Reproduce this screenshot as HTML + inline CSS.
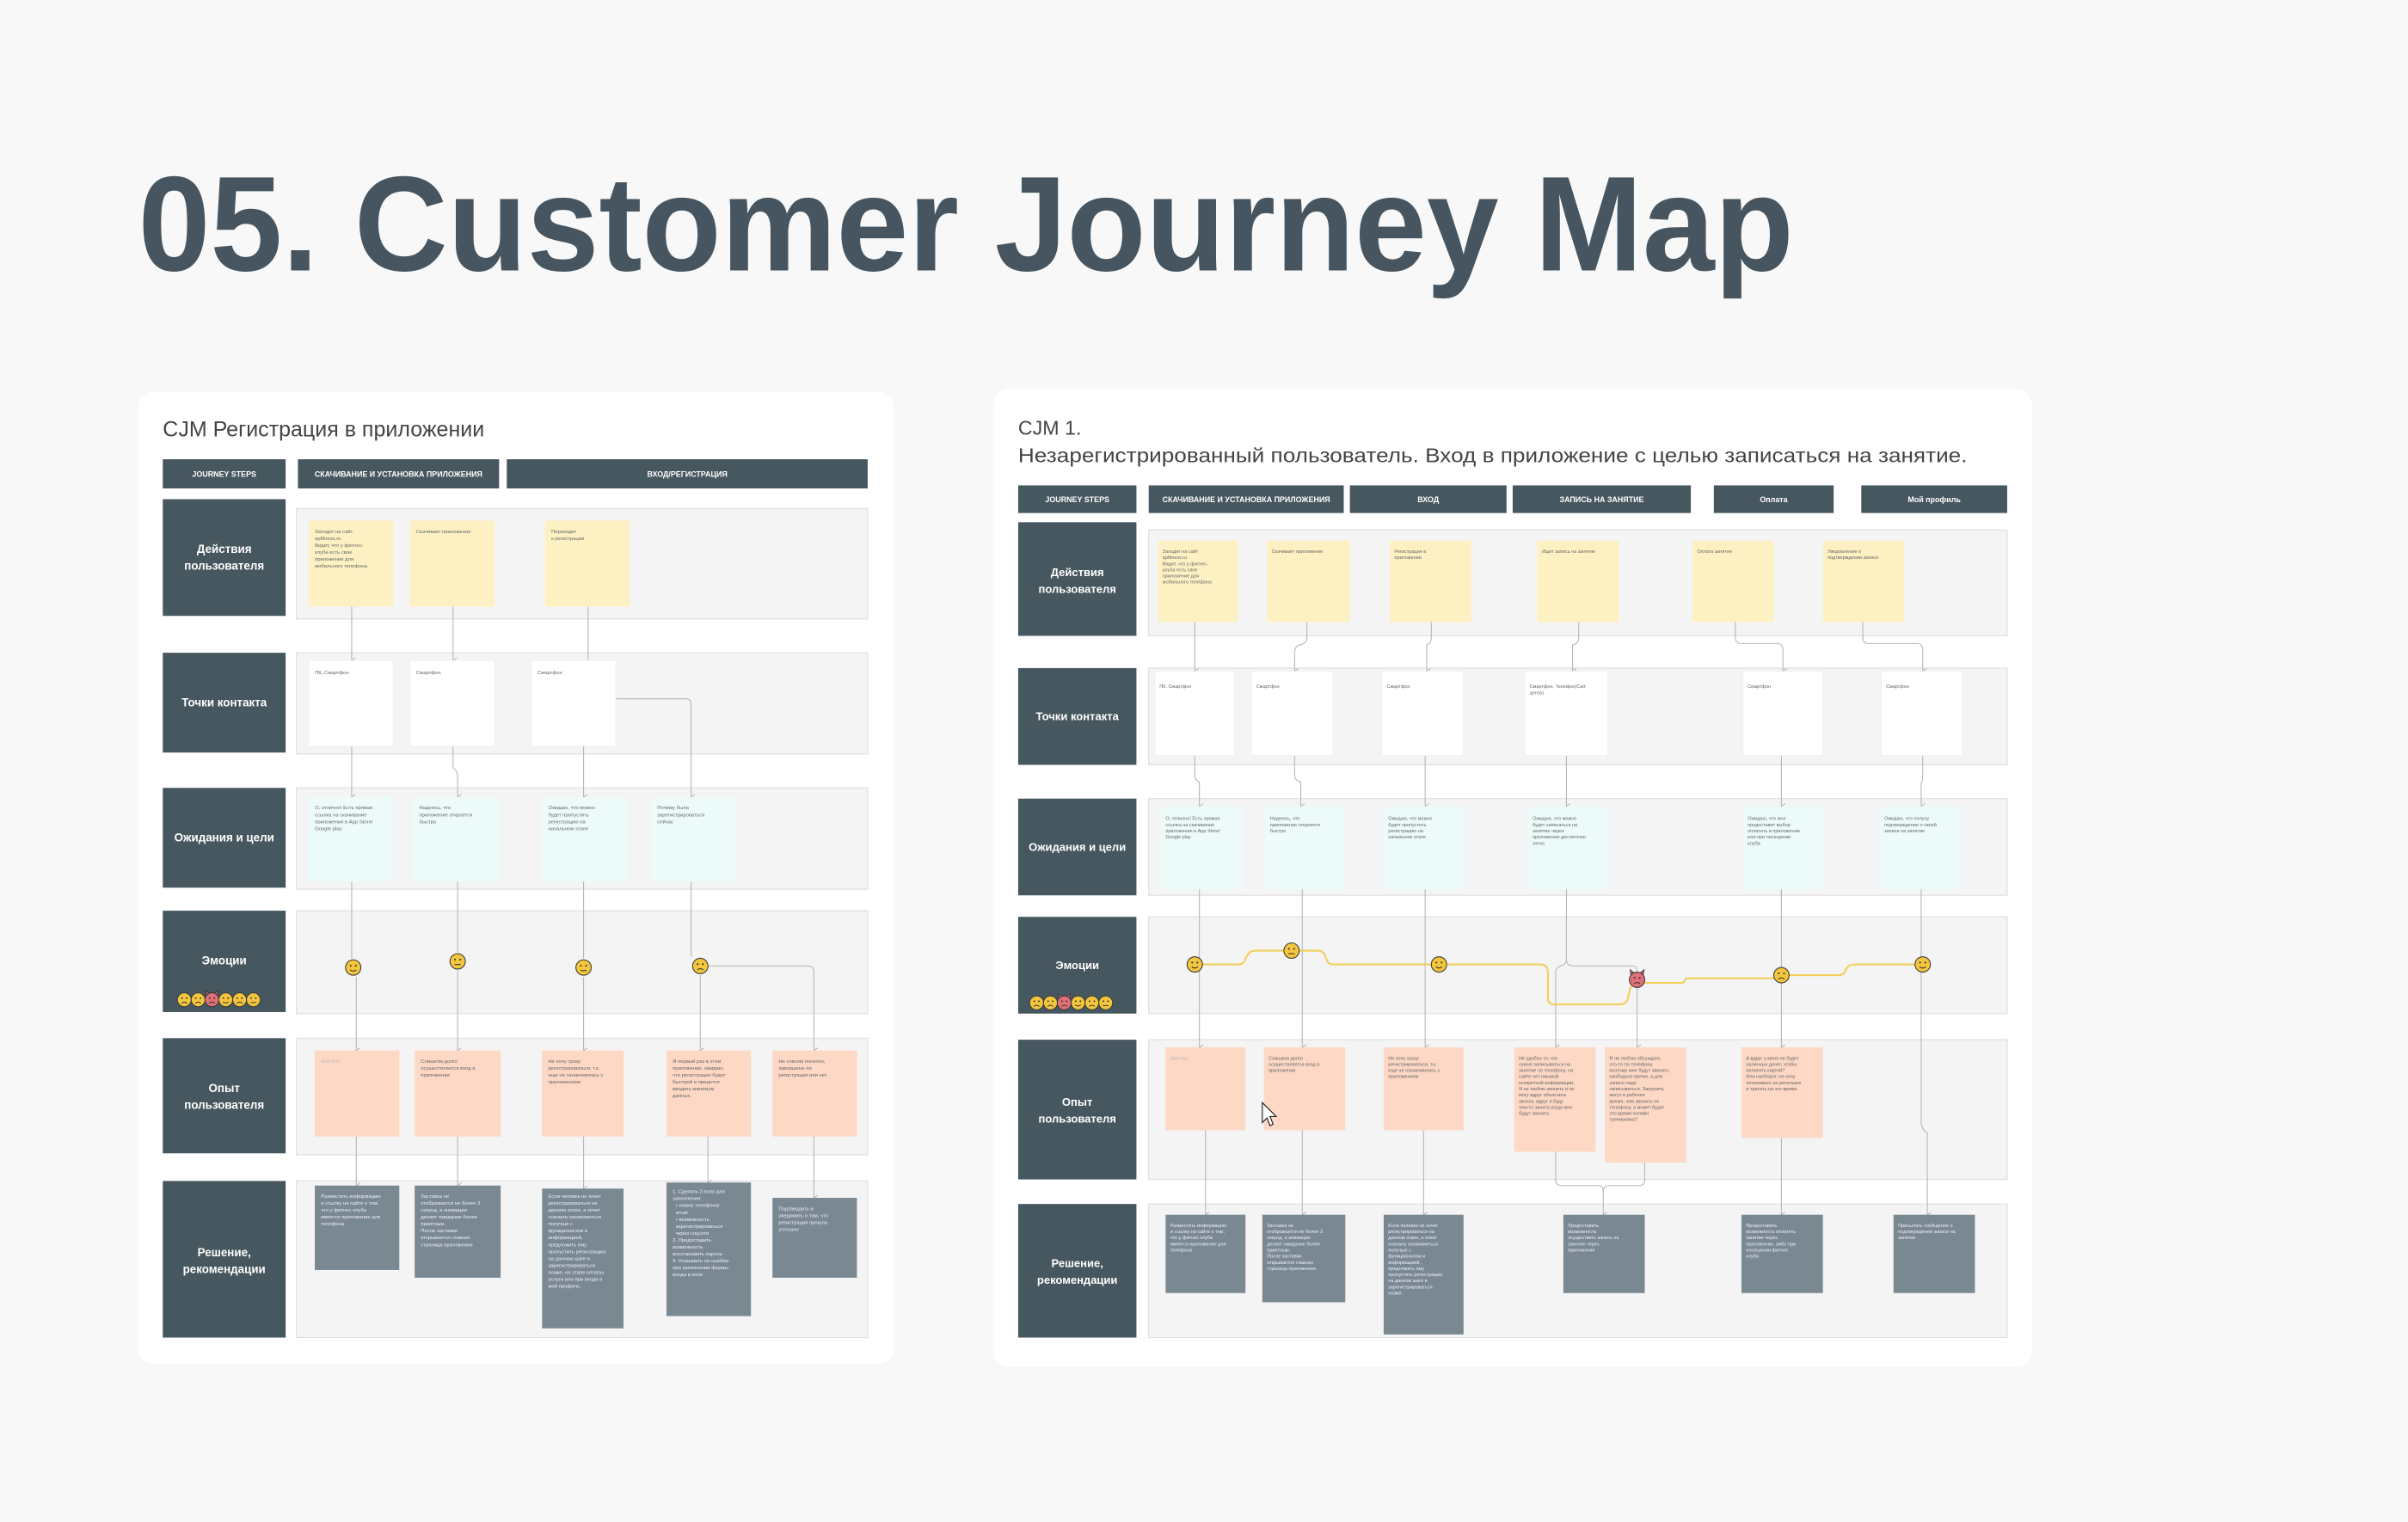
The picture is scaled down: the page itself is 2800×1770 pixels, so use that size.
<!DOCTYPE html>
<html><head><meta charset="utf-8"><style>
html,body{margin:0;padding:0;background:#f8f8f8;}
svg{display:block}
text{font-family:"Liberation Sans","Noto Sans CJK SC",sans-serif;}
</style></head><body>
<svg width="2800" height="1770" viewBox="0 0 1568 991" xmlns="http://www.w3.org/2000/svg">
<defs>
<g id="fy"><circle r="5" fill="#f4c63d" stroke="#3a3a3a" stroke-width="0.6"/><circle cx="-1.7" cy="-1.2" r="0.6" fill="#333"/><circle cx="1.7" cy="-1.2" r="0.6" fill="#333"/><path d="M-2,1.5 Q0,3.2 2,1.5" stroke="#333" stroke-width="0.6" fill="none"/></g>
<g id="fn"><circle r="5" fill="#f4c63d" stroke="#3a3a3a" stroke-width="0.6"/><circle cx="-1.7" cy="-1.2" r="0.6" fill="#333"/><circle cx="1.7" cy="-1.2" r="0.6" fill="#333"/><path d="M-2,2 L2,2" stroke="#333" stroke-width="0.6"/></g>
<g id="fs"><circle r="5" fill="#f4c63d" stroke="#3a3a3a" stroke-width="0.6"/><circle cx="-1.7" cy="-1.2" r="0.6" fill="#333"/><circle cx="1.7" cy="-1.2" r="0.6" fill="#333"/><path d="M-2,2.6 Q0,0.8 2,2.6" stroke="#333" stroke-width="0.6" fill="none"/></g>
<g id="fr"><path d="M-4,-3 L-4.5,-6.5 L-2,-4.5 M4,-3 L4.5,-6.5 L2,-4.5" fill="#d9636a" stroke="#333" stroke-width="0.5"/><circle r="5" fill="#e26f78" stroke="#3a3a3a" stroke-width="0.6"/><circle cx="-1.7" cy="-1.2" r="0.6" fill="#333"/><circle cx="1.7" cy="-1.2" r="0.6" fill="#333"/><path d="M-2,2.6 Q0,0.8 2,2.6" stroke="#333" stroke-width="0.6" fill="none"/></g>
<marker id="ar" markerWidth="4" markerHeight="4" refX="2" refY="3" orient="auto-start-reverse" markerUnits="userSpaceOnUse"><path d="M0.3,0.5 L2,3 L3.7,0.5" stroke="#aaa" stroke-width="0.5" fill="none"/></marker>
</defs>
<rect width="1568" height="991" fill="#f8f8f8"/>
<text x="90" y="176" font-size="88" font-weight="bold" fill="#46555f" textLength="1078" lengthAdjust="spacingAndGlyphs">05. Customer Journey Map</text>

<!-- LEFT PANEL -->
<rect x="90" y="255" width="492" height="633" rx="10" fill="#fff"/>
<text x="106" y="284" font-size="14" fill="#444">CJM Регистрация в приложении</text>
<g fill="#47575f">
<rect x="106" y="299" width="80" height="19"/><rect x="194" y="299" width="131" height="19"/><rect x="330" y="299" width="235" height="19"/>
<rect x="106" y="325" width="80" height="76"/><rect x="106" y="425" width="80" height="65"/><rect x="106" y="513" width="80" height="65"/>
<rect x="106" y="593" width="80" height="66"/><rect x="106" y="676" width="80" height="75"/><rect x="106" y="769" width="80" height="102"/>
</g>
<g fill="#fff" font-size="5" font-weight="bold" text-anchor="middle">
<text x="146" y="310.5">JOURNEY STEPS</text><text x="259.5" y="310.5">СКАЧИВАНИЕ И УСТАНОВКА ПРИЛОЖЕНИЯ</text><text x="447.5" y="310.5">ВХОД/РЕГИСТРАЦИЯ</text>
</g>
<g fill="#fff" font-size="7.5" font-weight="bold" text-anchor="middle">
<text x="146" y="360">Действия</text><text x="146" y="371">пользователя</text>
<text x="146" y="460">Точки контакта</text>
<text x="146" y="548">Ожидания и цели</text>
<text x="146" y="628">Эмоции</text>
<text x="146" y="711">Опыт</text><text x="146" y="722">пользователя</text>
<text x="146" y="818">Решение,</text><text x="146" y="829">рекомендации</text>
</g>
<g transform="translate(120,651) scale(0.9)"><use href="#fs" x="0"/><use href="#fs" x="10"/><use href="#fr" x="20"/><use href="#fy" x="30"/><use href="#fs" x="40"/><use href="#fn" x="50"/></g>
<g fill="#f4f4f4" stroke="#dcdcdc" stroke-width="0.6">
<rect x="193" y="331" width="372" height="72"/><rect x="193" y="425" width="372" height="66"/><rect x="193" y="513" width="372" height="66"/>
<rect x="193" y="593" width="372" height="67"/><rect x="193" y="676" width="372" height="76"/><rect x="193" y="769" width="372" height="102"/>
</g>
<g stroke="#b5b5b5" stroke-width="0.6" fill="none">
<path d="M229,395 V430" marker-end="url(#ar)"/><path d="M295,395 V430" marker-end="url(#ar)"/>
<path d="M229,486 V519" marker-end="url(#ar)"/><path d="M295,486 V500 Q298,502 298,505 V519" marker-end="url(#ar)"/>
<path d="M383,395 V455 Q383,457 380,459 V519" marker-end="url(#ar)"/>
<path d="M383,455 H447 Q450,455 450,459 V519" marker-end="url(#ar)"/>
<path d="M229,574 V624 M232,636 V684" marker-end="url(#ar)"/>
<path d="M298,574 V620 M298,632 V684" marker-end="url(#ar)"/>
<path d="M380,574 V624 M380,636 V684" marker-end="url(#ar)"/>
<path d="M450,574 V623 M461,629 H526 Q530,629 530,633 V684" marker-end="url(#ar)"/>
<path d="M456,635 V684" marker-end="url(#ar)"/>
<path d="M232,740 V772" marker-end="url(#ar)"/><path d="M298,740 V772" marker-end="url(#ar)"/>
<path d="M380,740 V774" marker-end="url(#ar)"/><path d="M461,740 V770" marker-end="url(#ar)"/><path d="M530,740 V780" marker-end="url(#ar)"/>
</g>
<use href="#fy" x="230" y="630"/><use href="#fn" x="298" y="626"/><use href="#fn" x="380" y="630"/><use href="#fs" x="456" y="629"/>
<g fill="#fdf1c3"><rect x="201" y="339" width="55" height="56"/><rect x="267" y="339" width="55" height="56"/><rect x="355" y="339" width="55" height="56"/></g>
<g fill="#fff" stroke="#ececec" stroke-width="0.4"><rect x="201" y="430" width="55" height="56"/><rect x="267" y="430" width="55" height="56"/><rect x="346" y="430" width="55" height="56"/></g>
<g fill="#edfafa"><rect x="201" y="519" width="55" height="55"/><rect x="269" y="519" width="56" height="55"/><rect x="353" y="519" width="55" height="55"/><rect x="424" y="519" width="55" height="55"/></g>
<g fill="#fcd8c5"><rect x="205" y="684" width="55" height="56"/><rect x="270" y="684" width="56" height="56"/><rect x="353" y="684" width="53" height="56"/><rect x="434" y="684" width="55" height="56"/><rect x="503" y="684" width="55" height="56"/></g>
<g fill="#7a8892"><rect x="205" y="772" width="55" height="55"/><rect x="270" y="772" width="56" height="60"/><rect x="353" y="774" width="53" height="91"/><rect x="434" y="770" width="55" height="87"/><rect x="503" y="780" width="55" height="52"/></g>
<g font-size="3.3" fill="#666">
<text x="205" y="347">Заходит на сайт</text><text x="205" y="351.5">apfitness.ru</text><text x="205" y="356">Видит, что у фитнес-</text><text x="205" y="360.5">клуба есть свое</text><text x="205" y="365">приложение для</text><text x="205" y="369.5">мобильного телефона</text>
<text x="271" y="347">Скачивает приложение</text><text x="359" y="347">Переходит</text><text x="359" y="351.5">к регистрации</text>
<text x="205" y="439">ПК, Смартфон</text><text x="271" y="439">Смартфон</text><text x="350" y="439">Смартфон</text>
<text x="205" y="527">О, отлично! Есть прямая</text><text x="205" y="531.5">ссылка на скачивание</text><text x="205" y="536">приложения в App Store/</text><text x="205" y="540.5">Google play</text>
<text x="273" y="527">Надеюсь, что</text><text x="273" y="531.5">приложение откроется</text><text x="273" y="536">быстро</text>
<text x="357" y="527">Ожидаю, что можно</text><text x="357" y="531.5">будет пропустить</text><text x="357" y="536">регистрацию на</text><text x="357" y="540.5">начальном этапе</text>
<text x="428" y="527">Почему была</text><text x="428" y="531.5">зарегистрироваться</text><text x="428" y="536">сейчас</text>
<text x="274" y="692">Слишком долго</text><text x="274" y="696.5">осуществляется вход в</text><text x="274" y="701">приложении</text>
<text x="357" y="692">Не хочу сразу</text><text x="357" y="696.5">регистрироваться, т.к.</text><text x="357" y="701">еще не ознакомилась с</text><text x="357" y="705.5">приложением</text>
<text x="438" y="692">Я первый раз в этом</text><text x="438" y="696.5">приложении, ожидаю,</text><text x="438" y="701">что регистрация будет</text><text x="438" y="705.5">быстрой и придется</text><text x="438" y="710">вводить минимум</text><text x="438" y="714.5">данных.</text>
<text x="507" y="692">Не совсем понятно,</text><text x="507" y="696.5">завершена ли</text><text x="507" y="701">регистрация или нет</text>
<text x="209" y="692" fill="#bbb">Add text</text>
</g>
<g font-size="3.3" fill="#eef">
<text x="209" y="780">Разместить информацию</text><text x="209" y="784.5">и ссылку на сайте о том,</text><text x="209" y="789">что у фитнес клуба</text><text x="209" y="793.5">имеется приложение для</text><text x="209" y="798">телефона</text>
<text x="274" y="780">Заставка не</text><text x="274" y="784.5">отображается не более 3</text><text x="274" y="789">секунд, а анимация</text><text x="274" y="793.5">делает ожидание более</text><text x="274" y="798">приятным.</text><text x="274" y="802.5">После заставки</text><text x="274" y="807">открывается главная</text><text x="274" y="811.5">страница приложения</text>
<text x="357" y="780">Если человек не хочет</text><text x="357" y="784.5">регистрироваться на</text><text x="357" y="789">данном этапе, а хочет</text><text x="357" y="793.5">сначала ознакомиться</text><text x="357" y="798">получше с</text><text x="357" y="802.5">функционалом и</text><text x="357" y="807">информацией,</text><text x="357" y="811.5">предложить ему</text><text x="357" y="816">пропустить регистрацию</text><text x="357" y="820.5">на данном шаге и</text><text x="357" y="825">зарегистрироваться</text><text x="357" y="829.5">позже, на этапе оплаты</text><text x="357" y="834">услуги или при входе в</text><text x="357" y="838.5">мой профиль.</text>
<text x="438" y="777">1. Сделать 2 поля для</text><text x="438" y="781.5">заполнения:</text><text x="440" y="786">• номер телефона/</text><text x="440" y="790.5">email</text><text x="440" y="795">• возможность</text><text x="440" y="799.5">зарегистрироваться</text><text x="440" y="804">через соцсети</text><text x="438" y="808.5">3. Предоставить</text><text x="438" y="813">возможность</text><text x="438" y="817.5">восстановить пароль</text><text x="438" y="822">4. Указывать на ошибки</text><text x="438" y="826.5">при заполнении формы</text><text x="438" y="831">входа в поле</text>
<text x="507" y="788">Подтвердить и</text><text x="507" y="792.5">уведомить о том, что</text><text x="507" y="797">регистрация прошла</text><text x="507" y="801.5">успешно</text>
</g>

<!-- RIGHT PANEL -->
<rect x="647" y="253" width="676" height="637" rx="10" fill="#fff"/>
<text x="663" y="283" font-size="13" fill="#444">CJM 1.</text>
<text x="663" y="301" font-size="13" fill="#444" textLength="618" lengthAdjust="spacingAndGlyphs">Незарегистрированный пользователь.  Вход в приложение с целью записаться на занятие.</text>
<g fill="#47575f">
<rect x="663" y="316" width="77" height="18"/><rect x="748" y="316" width="127" height="18"/><rect x="879" y="316" width="102" height="18"/><rect x="985" y="316" width="116" height="18"/><rect x="1116" y="316" width="78" height="18"/><rect x="1212" y="316" width="95" height="18"/>
<rect x="663" y="340" width="77" height="74"/><rect x="663" y="435" width="77" height="63"/><rect x="663" y="520" width="77" height="63"/><rect x="663" y="597" width="77" height="63"/><rect x="663" y="677" width="77" height="91"/><rect x="663" y="784" width="77" height="87"/>
</g>
<g fill="#fff" font-size="5" font-weight="bold" text-anchor="middle">
<text x="701.5" y="327">JOURNEY STEPS</text><text x="811.5" y="327">СКАЧИВАНИЕ И УСТАНОВКА ПРИЛОЖЕНИЯ</text><text x="930" y="327">ВХОД</text><text x="1043" y="327">ЗАПИСЬ НА ЗАНЯТИЕ</text><text x="1155" y="327">Оплата</text><text x="1259.5" y="327">Мой профиль</text>
</g>
<g fill="#fff" font-size="7.3" font-weight="bold" text-anchor="middle">
<text x="701.5" y="375">Действия</text><text x="701.5" y="386">пользователя</text>
<text x="701.5" y="469">Точки контакта</text>
<text x="701.5" y="554">Ожидания и цели</text>
<text x="701.5" y="631">Эмоции</text>
<text x="701.5" y="720">Опыт</text><text x="701.5" y="731">пользователя</text>
<text x="701.5" y="825">Решение,</text><text x="701.5" y="836">рекомендации</text>
</g>
<g transform="translate(675,653) scale(0.9)"><use href="#fs" x="0"/><use href="#fs" x="10"/><use href="#fr" x="20"/><use href="#fy" x="30"/><use href="#fs" x="40"/><use href="#fn" x="50"/></g>
<g fill="#f4f4f4" stroke="#dcdcdc" stroke-width="0.6">
<rect x="748" y="345" width="559" height="69"/><rect x="748" y="435" width="559" height="63"/><rect x="748" y="520" width="559" height="63"/><rect x="748" y="597" width="559" height="63"/><rect x="748" y="677" width="559" height="91"/><rect x="748" y="784" width="559" height="87"/>
</g>
<g stroke="#b5b5b5" stroke-width="0.6" fill="none">
<path d="M778,405 V437" marker-end="url(#ar)"/>
<path d="M851,405 V415 Q851,419 846,420 Q843,421 843,425 V437" marker-end="url(#ar)"/>
<path d="M932,405 V415 Q932,419 929,420 V437" marker-end="url(#ar)"/>
<path d="M1028,405 V415 Q1028,419 1024,420 V437" marker-end="url(#ar)"/>
<path d="M1130,405 V415 Q1130,419 1134,419 H1157 Q1161,419 1161,423 V437" marker-end="url(#ar)"/>
<path d="M1213,405 V415 Q1213,419 1217,419 H1248 Q1252,419 1252,423 V437" marker-end="url(#ar)"/>
<path d="M778,492 V505 Q778,508 781,509 V525" marker-end="url(#ar)"/>
<path d="M843,492 V505 Q843,508 847,509 V525" marker-end="url(#ar)"/>
<path d="M928,492 V525" marker-end="url(#ar)"/><path d="M1020,492 V525" marker-end="url(#ar)"/>
<path d="M1160,492 V525" marker-end="url(#ar)"/><path d="M1252,492 V505 Q1252,508 1251,510 V525" marker-end="url(#ar)"/>
<path d="M781,579 V682" marker-end="url(#ar)"/><path d="M848,579 V682" marker-end="url(#ar)"/><path d="M928,579 V682" marker-end="url(#ar)"/>
<path d="M1020,579 V625 Q1020,628 1016,629 Q1013,630 1013,634 V682" marker-end="url(#ar)"/>
<path d="M1020,625 Q1020,629 1025,629 H1063 Q1066,629 1066,633"/><path d="M1066,642 V682" marker-end="url(#ar)"/>
<path d="M1160,579 V682" marker-end="url(#ar)"/>
<path d="M1251,579 V730 Q1251,735 1255,738 V791" marker-end="url(#ar)"/>
<path d="M785,736 V791" marker-end="url(#ar)"/><path d="M848,736 V791" marker-end="url(#ar)"/><path d="M927,736 V791" marker-end="url(#ar)"/>
<path d="M1013,750 V768 Q1013,772 1017,772 H1041 Q1044,772 1044,776 V791" marker-end="url(#ar)"/>
<path d="M1071,757 V768 Q1071,772 1067,772 H1048 Q1044,772 1044,776"/>
<path d="M1160,741 V791" marker-end="url(#ar)"/>
</g>
<path d="M778,628 H806 Q810,628 811,624 L813,621 Q814,619 818,619 H836 M846,619 H858 Q862,619 863,623 L865,627 Q866,628 870,628 H932 M942,628 H1003 Q1008,628 1008,634 V650 Q1008,654 1012,654 H1055 Q1059,654 1060,650 L1062,642 M1071,640 H1096 L1098,637 H1155 M1165,635 H1197 Q1201,635 1202,631 L1203,630 Q1204,628 1208,628 H1247" stroke="#f2cf5b" stroke-width="1.2" fill="none"/>
<use href="#fy" x="778" y="628"/><use href="#fn" x="841" y="619"/><use href="#fy" x="937" y="628"/><use href="#fr" x="1066" y="638"/><use href="#fs" x="1160" y="635"/><use href="#fy" x="1252" y="628"/>
<g fill="#fdf1c3"><rect x="754" y="352" width="52" height="53"/><rect x="825" y="352" width="54" height="53"/><rect x="905" y="352" width="53" height="53"/><rect x="1001" y="352" width="53" height="53"/><rect x="1102" y="352" width="53" height="53"/><rect x="1187" y="352" width="53" height="53"/></g>
<g fill="#fff" stroke="#ececec" stroke-width="0.4"><rect x="752" y="437" width="52" height="55"/><rect x="815" y="437" width="53" height="55"/><rect x="900" y="437" width="53" height="55"/><rect x="993" y="437" width="54" height="55"/><rect x="1135" y="437" width="52" height="55"/><rect x="1225" y="437" width="53" height="55"/></g>
<g fill="#edfafa"><rect x="756" y="525" width="53" height="54"/><rect x="824" y="525" width="52" height="54"/><rect x="901" y="525" width="53" height="54"/><rect x="995" y="525" width="52" height="54"/><rect x="1135" y="525" width="52" height="54"/><rect x="1224" y="525" width="53" height="54"/></g>
<g fill="#fcd8c5"><rect x="759" y="682" width="52" height="54"/><rect x="823" y="682" width="53" height="54"/><rect x="901" y="682" width="52" height="54"/><rect x="986" y="682" width="53" height="68"/><rect x="1045" y="682" width="53" height="75"/><rect x="1134" y="682" width="53" height="59"/></g>
<g fill="#7a8892"><rect x="759" y="791" width="52" height="51"/><rect x="822" y="791" width="54" height="57"/><rect x="901" y="791" width="52" height="78"/><rect x="1018" y="791" width="53" height="51"/><rect x="1134" y="791" width="53" height="51"/><rect x="1233" y="791" width="53" height="51"/></g>
<g font-size="3.1" fill="#666">
<text x="757" y="360">Заходит на сайт</text><text x="757" y="364">apfitness.ru</text><text x="757" y="368">Видит, что у фитнес-</text><text x="757" y="372">клуба есть свое</text><text x="757" y="376">приложение для</text><text x="757" y="380">мобильного телефона</text>
<text x="828" y="360">Скачивает приложение</text><text x="908" y="360">Регистрация в</text><text x="908" y="364">приложении</text><text x="1004" y="360">Ищет запись на занятие</text><text x="1105" y="360">Оплата занятия</text><text x="1190" y="360">Уведомление о</text><text x="1190" y="364">подтверждении записи</text>
<text x="755" y="448">ПК, Смартфон</text><text x="818" y="448">Смартфон</text><text x="903" y="448">Смартфон</text><text x="996" y="448">Смартфон, Телефон(Call-</text><text x="996" y="452">центр)</text><text x="1138" y="448">Смартфон</text><text x="1228" y="448">Смартфон</text>
<text x="759" y="534">О, отлично! Есть прямая</text><text x="759" y="538">ссылка на скачивание</text><text x="759" y="542">приложения в App Store/</text><text x="759" y="546">Google play</text>
<text x="827" y="534">Надеюсь, что</text><text x="827" y="538">приложение откроется</text><text x="827" y="542">быстро</text>
<text x="904" y="534">Ожидаю, что можно</text><text x="904" y="538">будет пропустить</text><text x="904" y="542">регистрацию на</text><text x="904" y="546">начальном этапе</text>
<text x="998" y="534">Ожидаю, что можно</text><text x="998" y="538">будет записаться на</text><text x="998" y="542">занятие через</text><text x="998" y="546">приложение достаточно</text><text x="998" y="550">легко</text>
<text x="1138" y="534">Ожидаю, что мне</text><text x="1138" y="538">предоставят выбор</text><text x="1138" y="542">оплатить в приложении</text><text x="1138" y="546">или при посещении</text><text x="1138" y="550">клуба</text>
<text x="1227" y="534">Ожидаю, что получу</text><text x="1227" y="538">подтверждение о своей</text><text x="1227" y="542">записи на занятие</text>
<text x="762" y="690" fill="#bbb">Add text</text>
<text x="826" y="690">Слишком долго</text><text x="826" y="694">осуществляется вход в</text><text x="826" y="698">приложении</text>
<text x="904" y="690">Не хочу сразу</text><text x="904" y="694">регистрироваться, т.к.</text><text x="904" y="698">еще не ознакомилась с</text><text x="904" y="702">приложением</text>
<text x="989" y="690">Не удобно то, что</text><text x="989" y="694">нужно записываться на</text><text x="989" y="698">занятие по телефону, на</text><text x="989" y="702">сайте нет никакой</text><text x="989" y="706">конкретной информации.</text><text x="989" y="710">Я не люблю звонить и не</text><text x="989" y="714">могу вдруг объяснить</text><text x="989" y="718">звонок, вдруг я буду</text><text x="989" y="722">чем-то занята когда мне</text><text x="989" y="726">будут звонить</text>
<text x="1048" y="690">Я не люблю обсуждать</text><text x="1048" y="694">что-то по телефону,</text><text x="1048" y="698">поэтому мне будут звонить</text><text x="1048" y="702">свободное время, а для</text><text x="1048" y="706">записи надо</text><text x="1048" y="710">записываться. Загрузить</text><text x="1048" y="714">могут в рабочее</text><text x="1048" y="718">время, чем звонить по</text><text x="1048" y="722">телефону, а может будет</text><text x="1048" y="726">это время онлайн</text><text x="1048" y="730">тренировка?</text>
<text x="1137" y="690">А вдруг у меня не будет</text><text x="1137" y="694">наличных денег, чтобы</text><text x="1137" y="698">оплатить картой?</text><text x="1137" y="702">Или наоборот, не хочу</text><text x="1137" y="706">оплачивать на ресепшне</text><text x="1137" y="710">и тратить на это время</text>
</g>
<g font-size="3.1" fill="#eef">
<text x="762" y="799">Разместить информацию</text><text x="762" y="803">и ссылку на сайте о том,</text><text x="762" y="807">что у фитнес клуба</text><text x="762" y="811">имеется приложение для</text><text x="762" y="815">телефона</text>
<text x="825" y="799">Заставка не</text><text x="825" y="803">отображается не более 3</text><text x="825" y="807">секунд, а анимация</text><text x="825" y="811">делает ожидание более</text><text x="825" y="815">приятным.</text><text x="825" y="819">После заставки</text><text x="825" y="823">открывается главная</text><text x="825" y="827">страница приложения</text>
<text x="904" y="799">Если человек не хочет</text><text x="904" y="803">регистрироваться на</text><text x="904" y="807">данном этапе, а хочет</text><text x="904" y="811">сначала ознакомиться</text><text x="904" y="815">получше с</text><text x="904" y="819">функционалом и</text><text x="904" y="823">информацией,</text><text x="904" y="827">предложить ему</text><text x="904" y="831">пропустить регистрацию</text><text x="904" y="835">на данном шаге и</text><text x="904" y="839">зарегистрироваться</text><text x="904" y="843">позже.</text>
<text x="1021" y="799">Предоставить</text><text x="1021" y="803">возможность</text><text x="1021" y="807">осуществить запись на</text><text x="1021" y="811">занятие через</text><text x="1021" y="815">приложение</text>
<text x="1137" y="799">Предоставить</text><text x="1137" y="803">возможность оплатить</text><text x="1137" y="807">занятие через</text><text x="1137" y="811">приложение, либо при</text><text x="1137" y="815">посещении фитнес</text><text x="1137" y="819">клуба</text>
<text x="1236" y="799">Присылать сообщение о</text><text x="1236" y="803">подтверждении записи на</text><text x="1236" y="807">занятие</text>
</g>
<path d="M822,718 L822,731 L825,728 L827,733 L829,732 L827,727 L831,727 Z" fill="#fff" stroke="#111" stroke-width="0.6"/>
</svg>
</body></html>
